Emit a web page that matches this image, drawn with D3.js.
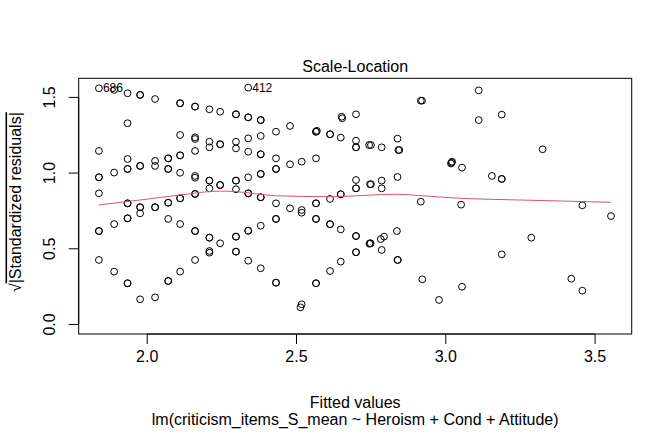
<!DOCTYPE html>
<html>
<head>
<meta charset="utf-8">
<script src="https://cdn.jsdelivr.net/npm/d3@7"></script>
<style>
  html, body { margin: 0; padding: 0; background: #fff; }
  svg text { font-family: "Liberation Sans", Arial, Helvetica, sans-serif; fill: #000; }
</style>
</head>
<body>
<svg id="chart" width="672" height="432"></svg>
<script>
// ---- data ----
const fittedValues = [
  1.840,1.840,1.840,1.840,1.840,1.840,1.840,1.840,
  1.891,1.891,1.891,1.891,
  1.936,1.936,1.936,1.936,1.936,1.936,1.936,1.936,1.936,1.936,1.936,
  1.978,1.978,1.978,1.978,1.978,1.978,1.978,1.978,
  2.028,2.028,2.028,2.028,2.028,2.028,
  2.072,2.072,2.072,2.072,2.072,2.072,2.072,2.072,2.072,
  2.112,2.112,2.112,2.112,2.112,2.112,2.112,2.112,2.112,2.112,
  2.162,2.162,2.162,2.162,2.162,2.162,2.162,2.162,2.162,2.162,2.162,2.162,
  2.210,2.210,2.210,2.210,2.210,2.210,2.210,2.210,2.210,2.210,
  2.246,2.246,2.246,2.246,2.246,2.246,
  2.299,2.299,2.299,2.299,2.299,2.299,2.299,2.299,2.299,2.299,2.299,
  2.340,2.340,2.340,2.340,2.340,2.340,2.340,2.340,2.340,2.340,2.340,
  2.382,2.382,2.382,2.382,2.382,2.382,2.382,2.382,2.382,2.382,2.382,
  2.433,2.433,2.433,2.433,2.433,2.433,2.433,2.433,2.433,
  2.480,2.480,2.480,
  2.519,2.519,2.519,2.519,2.515,
  2.567,2.567,2.570,2.567,2.567,2.567,2.567,2.567,2.567,2.567,
  2.614,2.614,2.614,2.614,2.614,2.614,
  2.650,2.650,2.650,2.650,2.650,2.653,2.655,
  2.701,2.701,2.701,2.701,2.701,2.701,2.701,2.701,2.701,2.701,2.701,
  2.745,2.751,2.748,2.751,2.748,2.750,2.746,
  2.787,2.787,2.787,2.787,2.784,2.795,
  2.840,2.843,2.846,2.840,2.838,2.840,2.841,
  2.918,2.922,2.918,2.923,2.979,
  3.021,3.019,3.023,3.056,3.053,3.056,
  3.112,3.112,3.156,3.189,3.189,3.189,3.189,
  3.288,3.326,3.422,3.459,3.459,3.555
];
const sqrtStdResiduals = [
  1.557,1.143,0.969,0.969,0.863,0.614,0.614,0.423,
  1.546,1.000,0.660,0.346,
  1.524,1.326,1.090,1.024,1.024,0.797,0.797,0.698,0.698,0.269,0.269,
  1.513,1.513,1.044,1.044,0.771,0.771,0.731,0.163,
  1.486,1.077,1.044,0.771,0.771,0.176,
  1.094,1.094,1.024,1.024,0.801,0.801,0.694,0.284,0.284,
  1.458,1.458,1.248,1.114,1.114,0.999,0.830,0.830,0.660,0.346,
  1.436,1.436,1.233,1.222,1.143,0.978,0.966,0.859,0.859,0.614,0.614,0.423,
  1.418,1.204,1.167,0.947,0.947,0.896,0.570,0.570,0.482,0.471,
  1.402,1.187,1.187,0.918,0.918,0.533,
  1.385,1.385,1.204,1.160,0.947,0.947,0.890,0.577,0.577,0.478,0.478,
  1.561,1.365,1.365,1.226,1.138,0.969,0.863,0.863,0.616,0.616,0.418,
  1.347,1.347,1.242,1.121,1.121,0.991,0.991,0.837,0.837,0.649,0.368,
  1.270,1.094,1.024,1.024,0.797,0.694,0.694,0.273,0.273,
  1.308,1.055,0.764,
  1.072,0.753,0.735,0.130,0.110,
  1.270,1.270,1.276,1.094,0.797,0.797,0.694,0.694,0.269,0.269,
  1.253,1.253,0.826,0.659,0.659,0.350,
  1.231,0.857,0.857,0.625,0.412,1.369,1.359,
  1.385,1.211,1.167,1.167,0.951,0.896,0.896,0.581,0.581,0.474,0.474,
  1.182,1.182,0.923,0.923,0.533,0.533,0.530,
  1.167,0.947,0.896,0.489,0.561,0.577,
  1.224,1.149,1.149,0.971,0.614,0.423,0.423,
  1.475,1.475,0.808,0.295,0.159,
  1.066,1.060,1.072,1.033,0.788,0.246,
  1.543,1.347,0.978,1.383,0.958,0.958,0.460,
  0.570,1.154,0.299,0.784,0.220,0.713
];
const loessX = [1.840, 1.978, 2.112, 2.246, 2.299, 2.435, 2.614, 2.840, 2.915, 3.053, 3.249, 3.555];
const loessY = [0.786, 0.819, 0.852, 0.878, 0.874, 0.847, 0.841, 0.857, 0.848, 0.830, 0.819, 0.804];
const labelNames = ["686", "412"];
const labelX = [1.840, 2.340];
const labelY = [1.557, 1.561];
const xTicks = [2.0, 2.5, 3.0, 3.5];
const yTicks = [0.0, 0.5, 1.0, 1.5];
const titleText = "Scale-Location";
const xLabel = "Fitted values";
const subLabel = "lm(criticism_items_S_mean ~ Heroism + Cond + Attitude)";

// ---- drawing ----
const svg = d3.select("#chart");
const boxL = 78.7, boxR = 631.7, boxT = 78.3, boxB = 334;
const x = d3.scaleLinear().domain([1.7723, 3.6243]).range([boxL, boxR]);
const y = d3.scaleLinear().domain([-0.0661, 1.6228]).range([boxB, boxT]);
const font = 16;

// points
svg.append("g").selectAll("circle")
  .data(fittedValues.map((fv, i) => [fv, sqrtStdResiduals[i]]))
  .join("circle")
  .attr("cx", d => x(d[0]))
  .attr("cy", d => y(d[1]))
  .attr("r", 3.4)
  .attr("fill", "none")
  .attr("stroke", "#000")
  .attr("stroke-width", 1);

// loess smooth
svg.append("path")
  .datum(loessX.map((v, i) => [v, loessY[i]]))
  .attr("fill", "none")
  .attr("stroke", "#DF536B")
  .attr("stroke-width", 1)
  .attr("d", d3.line().x(d => x(d[0])).y(d => y(d[1])).curve(d3.curveMonotoneX));

// point labels
svg.append("g").selectAll("text")
  .data(labelNames)
  .join("text")
  .attr("x", (d, i) => x(labelX[i]) + 4)
  .attr("y", (d, i) => y(labelY[i]))
  .attr("dy", "0.35em")
  .attr("font-size", 12)
  .text(d => d);

// box
svg.append("rect")
  .attr("x", boxL).attr("y", boxT)
  .attr("width", boxR - boxL).attr("height", boxB - boxT)
  .attr("fill", "none").attr("stroke", "#000").attr("stroke-width", 1);

// x axis
const gx = svg.append("g").attr("transform", `translate(0,${boxB})`)
  .call(d3.axisBottom(x).tickValues(xTicks).tickFormat(d3.format(".1f")).tickSize(10).tickPadding(16));
gx.select(".domain").remove();
gx.selectAll("text").attr("font-size", font).attr("font-family", null).attr("dy", "0.1em");
gx.selectAll("line").attr("stroke", "#000");
gx.append("line").attr("x1", x(xTicks[0])).attr("x2", x(xTicks[xTicks.length - 1]))
  .attr("y1", 0).attr("y2", 0).attr("stroke", "#000");

// y axis
const gy = svg.append("g").attr("transform", `translate(${boxL},0)`)
  .call(d3.axisLeft(y).tickValues(yTicks).tickFormat(d3.format(".1f")).tickSize(10));
gy.select(".domain").remove();
gy.selectAll("line").attr("stroke", "#000");
gy.selectAll(".tick text")
  .attr("font-size", font).attr("font-family", null)
  .attr("x", null).attr("dy", null)
  .attr("text-anchor", "middle")
  .attr("transform", "translate(-22,0) rotate(-90)")
  .attr("dy", "-0.1em");
gy.append("line").attr("y1", y(yTicks[0])).attr("y2", y(yTicks[yTicks.length - 1]))
  .attr("x1", 0).attr("x2", 0).attr("stroke", "#000");

// title & labels
svg.append("text").attr("x", (boxL + boxR) / 2).attr("y", 71.5)
  .attr("text-anchor", "middle").attr("font-size", font).text(titleText);
svg.append("text").attr("x", (boxL + boxR) / 2).attr("y", 408)
  .attr("text-anchor", "middle").attr("font-size", font).text(xLabel);
svg.append("text").attr("x", (boxL + boxR) / 2).attr("y", 425)
  .attr("text-anchor", "middle").attr("font-size", font).text(subLabel);

const yl = svg.append("text")
  .attr("transform", `translate(20.5,${(boxT + boxB) / 2 - 4}) rotate(-90)`)
  .attr("text-anchor", "middle").attr("font-size", font);
yl.append("tspan").text("\u221A");
yl.append("tspan").attr("text-decoration", "overline").text("|Standardized residuals|");
</script>
</body>
</html>
